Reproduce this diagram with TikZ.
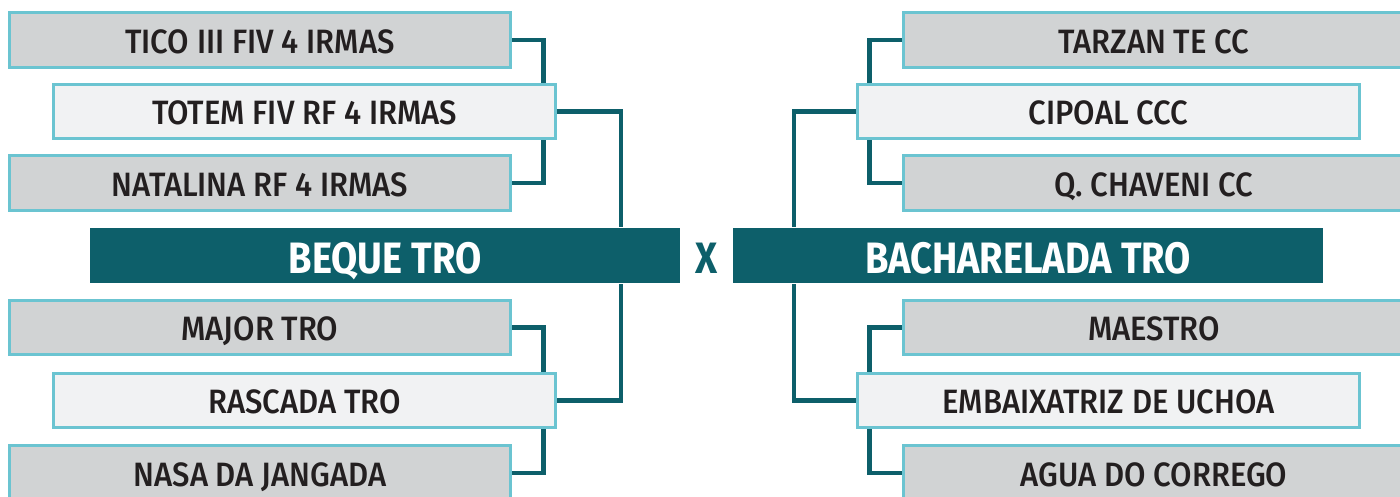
\documentclass[tikz,border=0pt]{standalone}
\usepackage{fontspec}
\setmainfont{Fira Sans}[UprightFont=* Medium, BoldFont=* Bold, UprightFeatures={FakeStretch=0.92}, BoldFeatures={FakeStretch=0.865}]
\usetikzlibrary{positioning, backgrounds}
\definecolor{cTeal}{RGB}{13,95,106}
\definecolor{cEdge}{RGB}{107,196,209}
\definecolor{cGrey}{RGB}{209,211,212}
\definecolor{cLight}{RGB}{241,242,243}
\definecolor{cInk}{RGB}{35,31,32}
\tikzset{
	horse/.style ={rectangle, draw=cEdge, line width=0.03cm, fill=cGrey, minimum width=5.01cm, minimum height=0.54cm, inner sep=0pt, text height=0.265cm, text depth=0cm, text=cInk, font=\fontsize{9.6}{10}\selectfont},
	sire/.style  ={horse, fill=cLight},
	champ/.style ={rectangle, fill=cTeal, minimum width=5.9cm, minimum height=0.55cm, inner sep=0pt, text height=0.35cm, text depth=0cm, text=white, font=\fontsize{12.5}{13}\selectfont\bfseries},
	link/.style  ={draw=cTeal, line width=0.045cm},
}

\begin{document}
\begin{tikzpicture}[x=0.01cm, y=-0.01cm]
	\useasboundingbox (0,0) rectangle (1400,497);
	% left bracket
	\node[horse] (tico)     at (260,40)    {TICO III FIV 4 IRMAS};
	\node[sire]  (totem)    at (304.5,111.5) {TOTEM FIV RF 4 IRMAS};
	\node[horse] (natalina) at (260,183)   {NATALINA RF 4 IRMAS};
	\node[champ] (beque)    at (385,255.5) {BEQUE TRO};
	\node[horse] (major)    at (260,327.5) {MAJOR TRO};
	\node[sire]  (rascada)  at (304.5,400.5) {RASCADA TRO};
	\node[horse] (nasa)     at (260,473)   {NASA DA JANGADA};
	% right bracket
	\node[horse] (tarzan)   at (1154,40)   {TARZAN TE CC};
	\node[sire]  (cipoal)   at (1108.5,111.5) {CIPOAL CCC};
	\node[horse] (chaveni)  at (1154,183)  {Q. CHAVENI CC};
	\node[champ] (bach)     at (1028,255.5) {BACHARELADA TRO};
	\node[horse] (maestro)  at (1154,327.5) {MAESTRO};
	\node[sire]  (embaix)   at (1108.5,400.5) {EMBAIXATRIZ DE UCHOA};
	\node[horse] (agua)     at (1154,473)  {AGUA DO CORREGO};
	\node[text=cTeal, text height=0.35cm, text depth=0cm, inner sep=0pt, font=\fontsize{12.5}{13}\selectfont\bfseries] (versus) at (707,256) {X};
	\begin{scope}[on background layer]
		\draw[link] (tico.east) -| ([xshift=-0.13cm]totem.north east);
		\draw[link] (natalina.east) -| ([xshift=-0.13cm]totem.south east);
		\draw[link] (totem.east) -| ([xshift=-0.6cm]beque.north east);
		\draw[link] (major.east) -| ([xshift=-0.13cm]rascada.north east);
		\draw[link] (nasa.east) -| ([xshift=-0.13cm]rascada.south east);
		\draw[link] (rascada.east) -| ([xshift=-0.6cm]beque.south east);
		\draw[link] (tarzan.west) -| ([xshift=0.13cm]cipoal.north west);
		\draw[link] (chaveni.west) -| ([xshift=0.13cm]cipoal.south west);
		\draw[link] (cipoal.west) -| ([xshift=0.62cm]bach.north west);
		\draw[link] (maestro.west) -| ([xshift=0.13cm]embaix.north west);
		\draw[link] (agua.west) -| ([xshift=0.13cm]embaix.south west);
		\draw[link] (embaix.west) -| ([xshift=0.62cm]bach.south west);
	\end{scope}
\end{tikzpicture}
\end{document}
